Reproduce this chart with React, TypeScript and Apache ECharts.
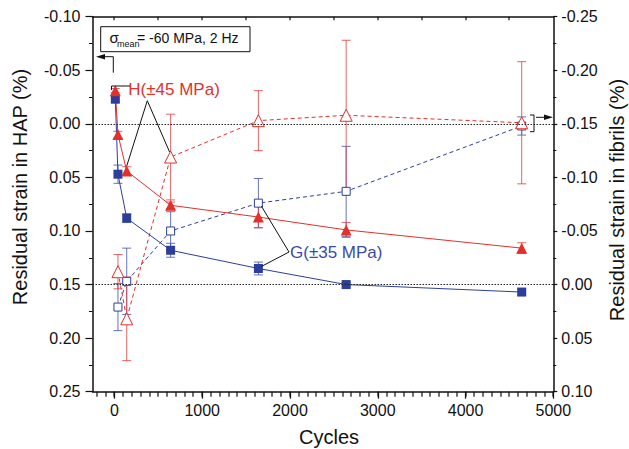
import React, { useEffect, useRef } from 'react';
import * as echarts from 'echarts';

// ---- data ----
const cyclesHAP = [10, 40, 140, 640, 1640, 2640, 4640];
const cyclesFib = [40, 140, 640, 1640, 2640, 4640];

const hapG = [-0.023, 0.047, 0.088, 0.118, 0.135, 0.150, 0.157];
const hapGErr = [0.003, 0.0085, 0.004, 0.0065, 0.006, 0.002, 0.003];
const hapH = [-0.031, 0.010, 0.044, 0.076, 0.087, 0.099, 0.116];
const hapHErr = [0.002, 0.003, 0.004, 0.003, 0.010, 0.007, 0.005];

const fibG = [0.021, -0.003, -0.050, -0.076, -0.087, -0.148];
const fibGErr = [0.022, 0.031, 0.018, 0.023, 0.042, 0.0085];
const fibH = [-0.012, 0.032, -0.119, -0.153, -0.158, -0.151];
const fibHErr = [0.016, 0.039, 0.040, 0.028, 0.070, 0.057];

const xMajorTicks = [0, 1000, 2000, 3000, 4000, 5000];
const zeroLines = [0, 0.15];

const FONT = "'Liberation Sans', Arial, Helvetica, sans-serif";
const RED = '#e3302a';
const BLUE = '#2c3e9c';
const RED_ERR = 'rgba(228,60,60,0.8)';
const BLUE_ERR = 'rgba(60,80,172,0.8)';

const xMinorTicks: number[] = [];
for (let v = -200; v <= 5000; v += 100) xMinorTicks.push(v);
const xTopTicks: number[] = [];
for (let v = 0; v < 5000; v += 500) xTopTicks.push(v);

function fmt(v: number) {
  if (Math.abs(v) < 1e-9) return '0.00';
  return v.toFixed(2);
}

function errorSeries(xs: number[], ys: number[], es: number[], yAxisIndex: number, color: string) {
  return {
    type: 'custom',
    xAxisIndex: 0,
    yAxisIndex,
    silent: true,
    z: 1,
    encode: { x: 0, y: 1 },
    data: xs.map((x, i) => [x, ys[i], es[i]]),
    renderItem: (params: any, api: any) => {
      const x = api.value(0);
      const y = api.value(1);
      const e = api.value(2);
      const a = api.coord([x, y - e]);
      const b = api.coord([x, y + e]);
      const w = 4.5;
      const style = { stroke: color, lineWidth: 1 };
      return {
        type: 'group',
        children: [
          { type: 'line', shape: { x1: a[0], y1: a[1], x2: b[0], y2: b[1] }, style },
          { type: 'line', shape: { x1: a[0] - w, y1: a[1], x2: a[0] + w, y2: a[1] }, style },
          { type: 'line', shape: { x1: b[0] - w, y1: b[1], x2: b[0] + w, y2: b[1] }, style },
        ],
      };
    },
  };
}

export default function App() {
  const ref = useRef<HTMLDivElement>(null);
  useEffect(() => {
    if (!ref.current) return;
    const chart = echarts.init(ref.current, undefined, { renderer: 'svg' });
    const axisLine = { show: true, onZero: false, lineStyle: { color: '#111', width: 1.5 } };
    const labelStyle = { color: '#111', fontSize: 16, fontFamily: FONT };
    chart.setOption({
      animation: false,
      backgroundColor: '#ffffff',
      grid: { left: 92.5, right: 75.7, top: 16.7, bottom: 57.3, containLabel: false },
      xAxis: [
        {
          type: 'value', position: 'bottom', min: -250, max: 5000,
          axisLine,
          axisTick: { show: true, inside: false, length: 7, customValues: xMajorTicks, lineStyle: { color: '#111', width: 1.2 } },
          axisLabel: { show: true, customValues: xMajorTicks, margin: 11, formatter: (v: number) => String(v), ...labelStyle },
          splitLine: { show: false },
        },
        {
          type: 'value', position: 'top', min: -250, max: 5000,
          axisLine,
          axisTick: { show: false },
          axisLabel: { show: false },
          splitLine: { show: false },
        },
      ],
      yAxis: [
        {
          type: 'value', position: 'left', inverse: true, min: -0.10, max: 0.25, interval: 0.05,
          axisLine,
          axisTick: { show: true, inside: false, length: 7, lineStyle: { color: '#111', width: 1.2 } },
          minorTick: { show: true, splitNumber: 2, length: 3.5, lineStyle: { color: '#111', width: 1 } },
          axisLabel: { show: true, margin: 12, formatter: fmt, ...labelStyle },
          splitLine: { show: false },
          minorSplitLine: { show: false },
        },
        {
          type: 'value', position: 'right', inverse: true, min: -0.25, max: 0.10, interval: 0.05,
          axisLine,
          axisTick: { show: true, inside: false, length: 4, lineStyle: { color: '#111', width: 1.2 } },
          minorTick: { show: true, splitNumber: 2, length: 3, lineStyle: { color: '#111', width: 1 } },
          axisLabel: { show: true, margin: 8, formatter: fmt, ...labelStyle },
          splitLine: { show: false },
          minorSplitLine: { show: false },
        },
      ],
      series: [
        errorSeries(cyclesFib, fibG, fibGErr, 1, BLUE_ERR),
        errorSeries(cyclesFib, fibH, fibHErr, 1, RED_ERR),
        errorSeries(cyclesHAP, hapG, hapGErr, 0, BLUE_ERR),
        errorSeries(cyclesHAP, hapH, hapHErr, 0, RED_ERR),
        {
          type: 'line', name: 'G fibrils', xAxisIndex: 0, yAxisIndex: 1, z: 3,
          data: cyclesFib.map((x, i) => [x, fibG[i]]),
          symbol: 'rect', symbolSize: 8,
          itemStyle: { color: '#ffffff', borderColor: BLUE, borderWidth: 1 },
          lineStyle: { color: BLUE, width: 1, type: [4, 3] },
        },
        {
          type: 'line', name: 'H fibrils', xAxisIndex: 0, yAxisIndex: 1, z: 3,
          data: cyclesFib.map((x, i) => [x, fibH[i]]),
          symbol: 'triangle', symbolSize: 12,
          itemStyle: { color: '#ffffff', borderColor: RED, borderWidth: 1 },
          lineStyle: { color: RED, width: 1, type: [4, 3] },
        },
        {
          type: 'line', name: 'G HAP', xAxisIndex: 0, yAxisIndex: 0, z: 4,
          data: cyclesHAP.map((x, i) => [x, hapG[i]]),
          symbol: 'rect', symbolSize: 9,
          itemStyle: { color: BLUE },
          lineStyle: { color: BLUE, width: 1 },
          markLine: {
            silent: true, symbol: ['none', 'none'], label: { show: false },
            lineStyle: { color: '#222', width: 1, type: [1.5, 1.5] },
            data: zeroLines.map((v) => ({ yAxis: v })),
          },
        },
        {
          type: 'line', name: 'H HAP', xAxisIndex: 0, yAxisIndex: 0, z: 4,
          data: cyclesHAP.map((x, i) => [x, hapH[i]]),
          symbol: 'triangle', symbolSize: 11,
          itemStyle: { color: RED },
          lineStyle: { color: RED, width: 1 },
        },
      ],
    });

    const px = (x: number) => chart.convertToPixel({ xAxisIndex: 0 }, x) as number;
    const pyL = (y: number) => chart.convertToPixel({ yAxisIndex: 0 }, y) as number;
    const pyR = (y: number) => chart.convertToPixel({ yAxisIndex: 1 }, y) as number;

    const gridBottom = 391.7;
    const gridTop = 16.7;
    const tickEls: any[] = [];
    xMinorTicks.forEach((v) => {
      const x = Math.round(px(v));
      tickEls.push({ type: 'rect', z: 12, shape: { x: x - 0.6, y: gridBottom, width: 1.2, height: 5 }, style: { fill: '#111' } });
    });
    xTopTicks.forEach((v) => {
      const x = Math.round(px(v));
      tickEls.push({ type: 'rect', z: 12, shape: { x: x - 0.6, y: gridTop, width: 1.2, height: 3.5 }, style: { fill: '#111' } });
    });

    const hPeak = [147.3, 100.7];
    const hA = [px(cyclesHAP[2]), pyL(hapH[2]) - 5];
    const hB = [px(cyclesFib[2]) - 1, pyR(fibH[2]) - 5];
    const gApex = [289, 252];
    const gA = [px(cyclesFib[3]) + 3, pyR(fibG[3]) + 3];
    const gB = [px(cyclesHAP[4]) + 3, pyL(hapG[4]) - 2];
    const lineStyle = { stroke: '#111', lineWidth: 1, fill: 'none' };

    chart.setOption({
      graphic: [
        ...tickEls,
        // axis titles
        {
          type: 'text', x: 19.5, y: 187, rotation: Math.PI / 2,
          style: { text: 'Residual strain in HAP (%)', fontSize: 20, fontFamily: FONT, fill: '#111', align: 'center', verticalAlign: 'middle' },
        },
        {
          type: 'text', x: 616.5, y: 200, rotation: Math.PI / 2,
          style: { text: 'Residual strain in fibrils (%)', fontSize: 20, fontFamily: FONT, fill: '#111', align: 'center', verticalAlign: 'middle' },
        },
        {
          type: 'text', x: 329, y: 437,
          style: { text: 'Cycles', fontSize: 20, fontFamily: FONT, fill: '#111', align: 'center', verticalAlign: 'middle' },
        },
        // condition box
        {
          type: 'rect', shape: { x: 100.7, y: 26.7, width: 149.3, height: 25 },
          style: { stroke: '#111', lineWidth: 1, fill: '#ffffff' }, z: 10,
        },
        {
          type: 'text', x: 109.5, y: 37, z: 11,
          style: { text: 'σ', fontSize: 15, fontFamily: FONT, fill: '#111', align: 'left', verticalAlign: 'middle' },
        },
        {
          type: 'text', x: 117, y: 43.5, z: 11,
          style: { text: 'mean', fontSize: 9, fontFamily: FONT, fill: '#111', align: 'left', verticalAlign: 'middle' },
        },
        {
          type: 'text', x: 137, y: 38, z: 11,
          style: { text: '= -60 MPa, 2 Hz', fontSize: 14, fontFamily: FONT, fill: '#111', align: 'left', verticalAlign: 'middle' },
        },
        // left arrow to HAP axis
        { type: 'polyline', shape: { points: [[113.3, 72.7], [113.3, 56.7], [104, 56.7]] }, style: lineStyle, z: 10 },
        { type: 'polygon', shape: { points: [[96, 56.7], [105, 53.9], [105, 59.5]] }, style: { fill: '#111' }, z: 10 },
        { type: 'polyline', shape: { points: [[111.5, 90], [111.5, 86], [130, 86]] }, style: lineStyle, z: 10 },
        // right arrow to fibril axis
        { type: 'polyline', shape: { points: [[530, 115], [534, 115], [534, 131.7], [530, 131.7]] }, style: lineStyle, z: 10 },
        { type: 'line', shape: { x1: 536, y1: 117.3, x2: 546, y2: 117.3 }, style: lineStyle, z: 10 },
        { type: 'polygon', shape: { points: [[553, 117.3], [544, 114.5], [544, 120.1]] }, style: { fill: '#111' }, z: 10 },
        // H label
        {
          type: 'text', x: 128.3, y: 89.5, z: 10,
          style: { text: 'H(±45 MPa)', fontSize: 17, fontFamily: FONT, fill: RED, align: 'left', verticalAlign: 'middle' },
        },
        { type: 'polyline', shape: { points: [hA, hPeak, hB] }, style: lineStyle, z: 10 },
        // G label
        {
          type: 'text', x: 290, y: 252, z: 10,
          style: { text: 'G(±35 MPa)', fontSize: 17, fontFamily: FONT, fill: '#3a4aa8', align: 'left', verticalAlign: 'middle' },
        },
        { type: 'polyline', shape: { points: [gA, gApex, gB] }, style: lineStyle, z: 10 },
      ],
    });

    return () => chart.dispose();
  }, []);

  return (
    <div
      ref={ref}
      style={{ position: 'absolute', left: 0, top: 0, width: 629, height: 449, background: '#fff' }}
    />
  );
}
